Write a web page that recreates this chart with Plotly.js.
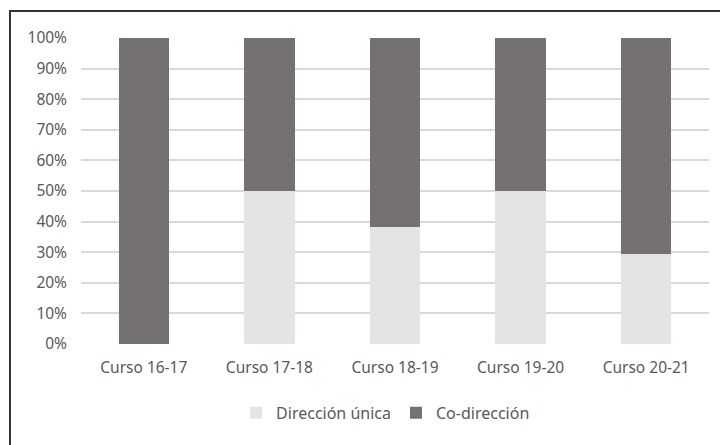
<!DOCTYPE html>
<html>
<head>
<meta charset="utf-8">
<script src="https://cdn.plot.ly/plotly-3.0.1.min.js"></script>
<style>
  body { margin: 0; background: #fff; }
  #wrap { position: relative; width: 720px; height: 445px; }
  #chart { width: 720px; height: 445px; }
  #frame { position: absolute; left: 9px; top: 10px; width: 720px; height: 445px;
           border-left: 2px solid #333; border-top: 2px solid #333; pointer-events: none; }
</style>
</head>
<body>
<div id="wrap">
  <div id="chart"></div>
  <div id="frame"></div>
</div>
<script>
var cursos = ['Curso 16-17', 'Curso 17-18', 'Curso 18-19', 'Curso 19-20', 'Curso 20-21'];
var direccionUnica = [0, 50, 38.3, 50, 29.4];
var coDireccion = [100, 50, 61.7, 50, 70.6];

var data = [{
  x: cursos,
  y: direccionUnica,
  type: 'bar',
  name: 'Dirección única',
  marker: {color: '#e5e3e3'},
  hoverinfo: 'x+y+name'
}, {
  x: cursos,
  y: coDireccion,
  type: 'bar',
  name: 'Co-dirección',
  marker: {color: '#767171'},
  hoverinfo: 'x+y+name'
}];

var layout = {
  width: 720,
  height: 445,
  barmode: 'stack',
  bargap: 0.6,
  margin: {l: 81, r: 11, t: 38, b: 101},
  paper_bgcolor: '#fff',
  plot_bgcolor: '#fff',
  font: {family: 'Noto Sans, Open Sans, sans-serif', size: 15, color: '#595959'},
  xaxis: {
    showgrid: false,
    showline: false,
    ticks: '',
    ticklabelstandoff: 12,
    tickfont: {size: 15.5, color: '#595959'}
  },
  yaxis: {
    range: [0, 100],
    dtick: 10,
    ticksuffix: '%',
    gridcolor: '#d9d9d9',
    gridwidth: 1.5,
    zeroline: false,
    showline: false,
    ticks: '',
    ticklabelstandoff: 13,
    tickfont: {size: 15.5, color: '#595959'},
    automargin: false
  },
  showlegend: true,
  legend: {
    orientation: 'h',
    x: 0.485,
    xanchor: 'center',
    y: -0.225,
    yanchor: 'middle',
    font: {size: 16, color: '#595959'},
    itemwidth: 30,
    traceorder: 'normal'
  }
};

Plotly.newPlot('chart', data, layout, {displayModeBar: false});
</script>
</body>
</html>
